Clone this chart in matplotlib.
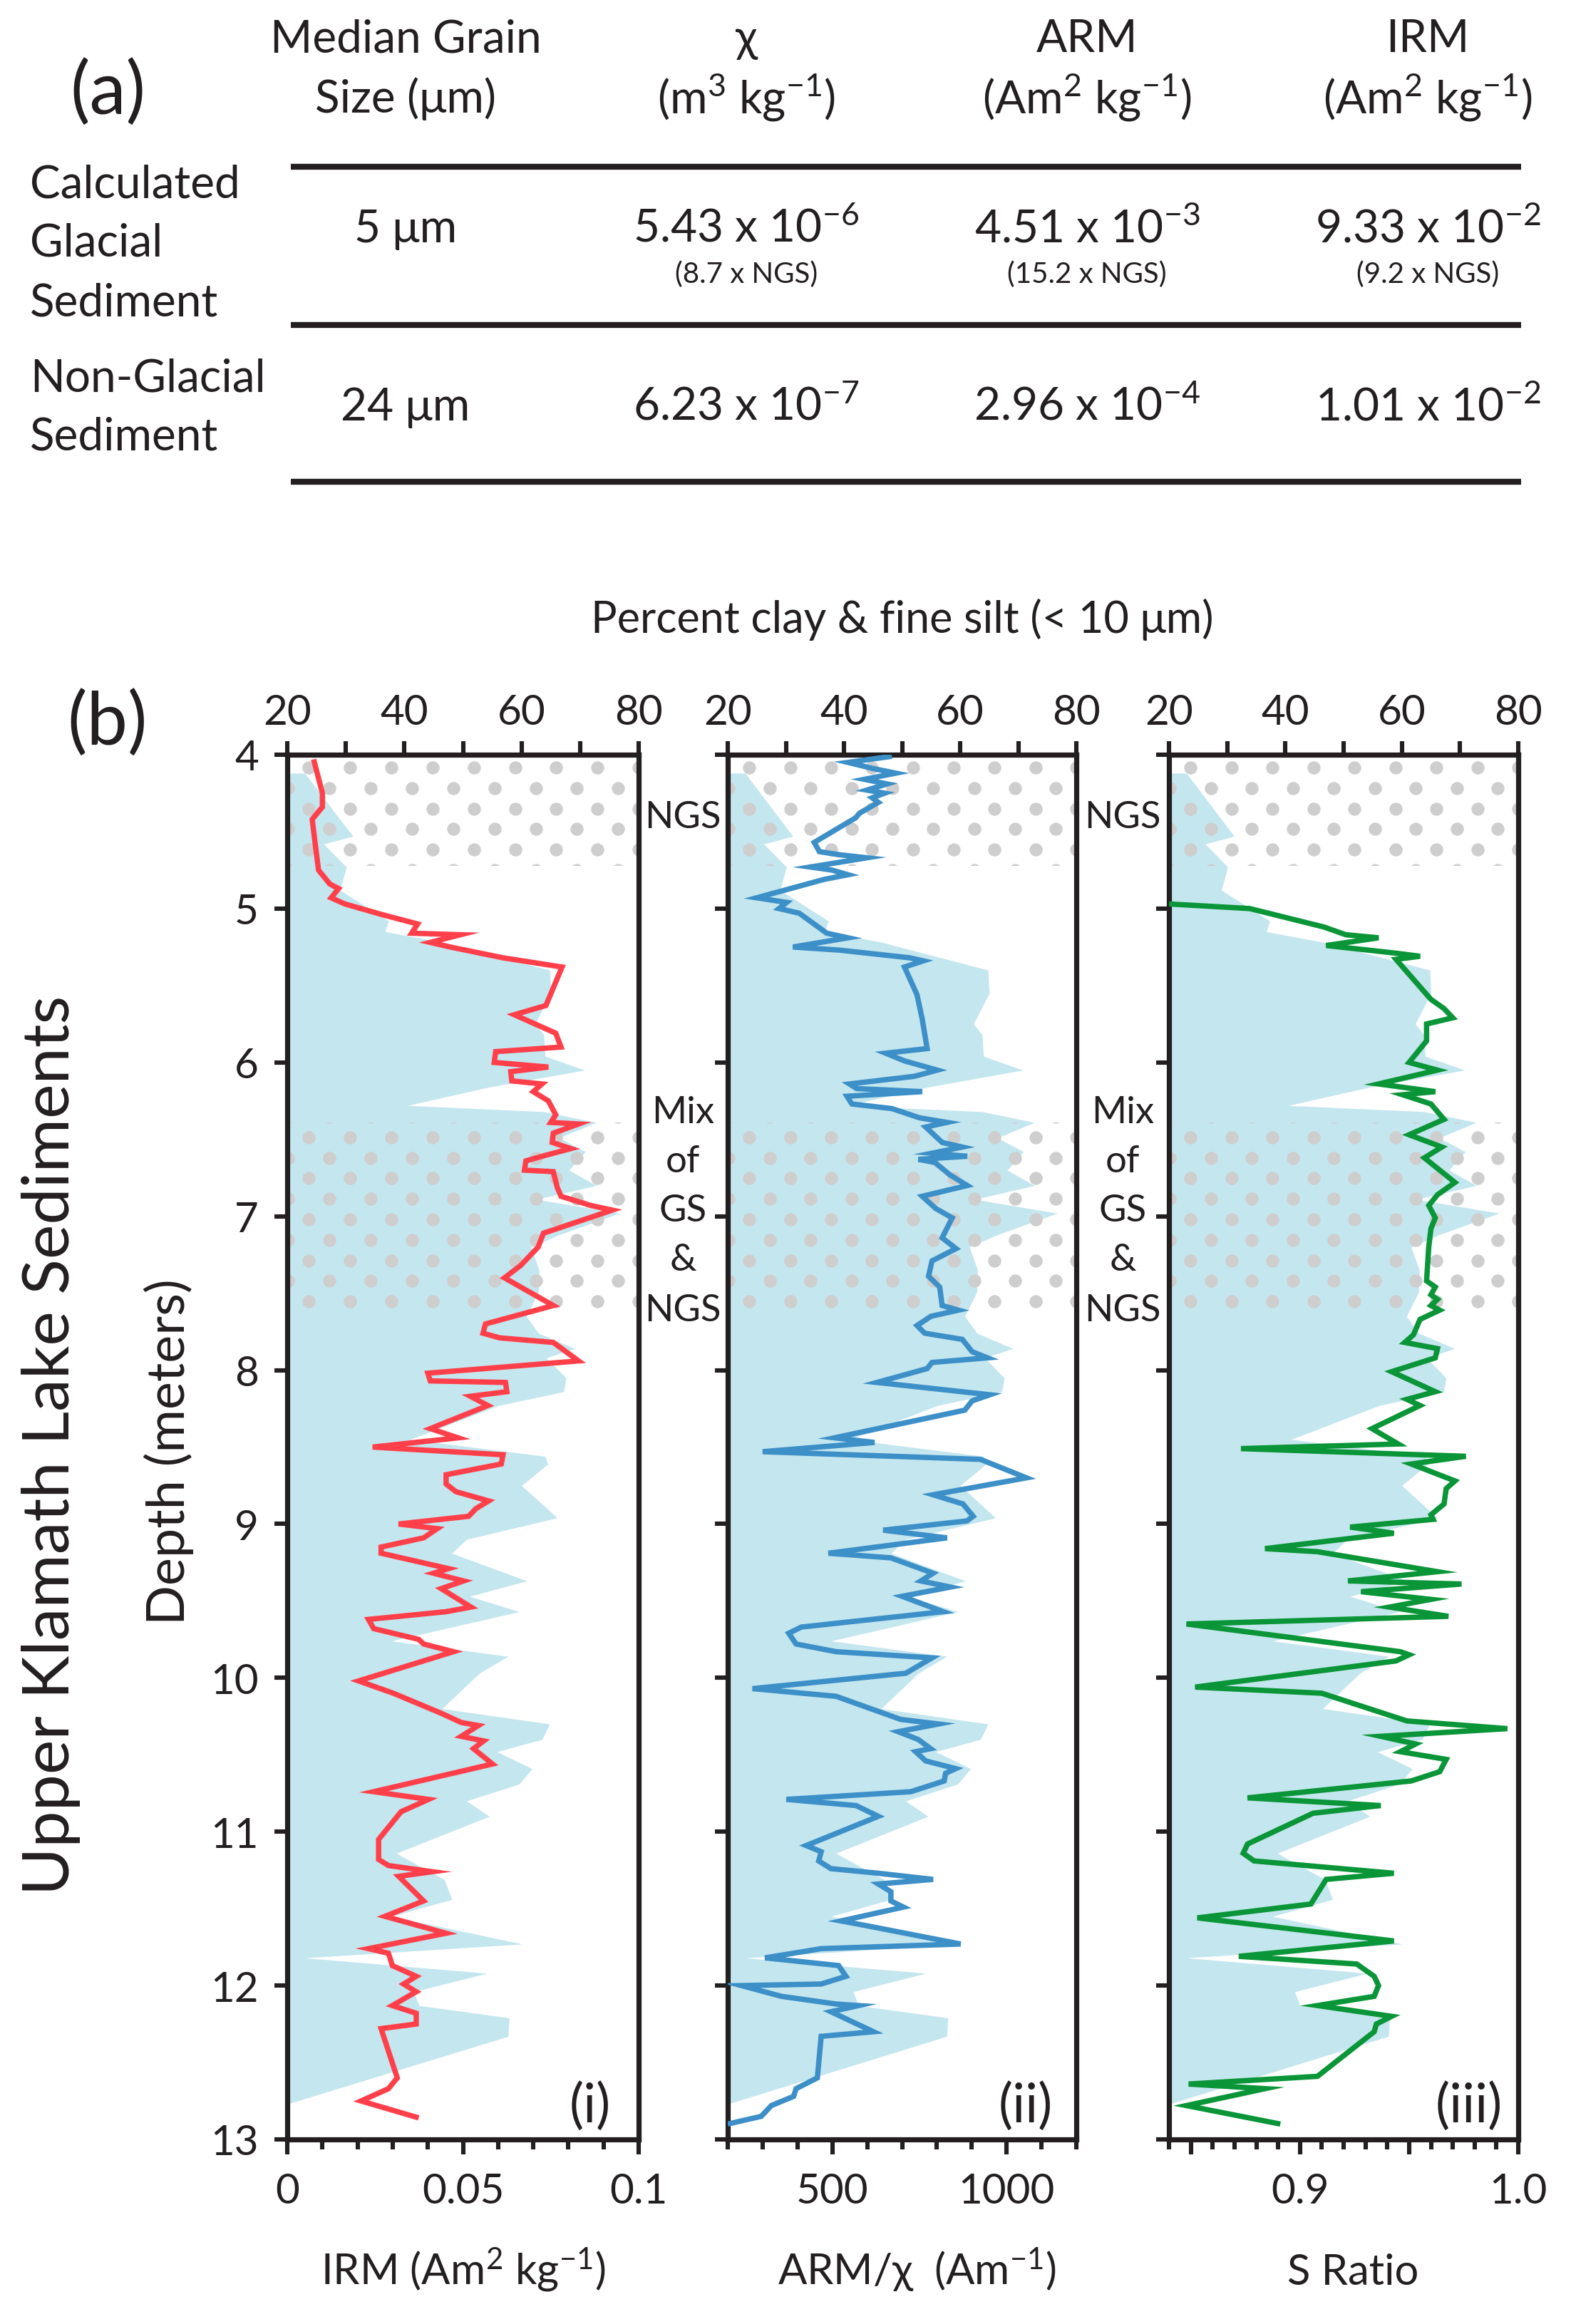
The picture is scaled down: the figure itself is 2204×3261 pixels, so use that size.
import numpy as np
import matplotlib
matplotlib.use("Agg")
import matplotlib.pyplot as plt
from matplotlib.patches import Rectangle
from matplotlib.ticker import MultipleLocator

plt.rcParams['font.family'] = ['Lato', 'DejaVu Sans']
plt.rcParams['mathtext.fontset'] = 'custom'
plt.rcParams['mathtext.rm'] = 'Lato'
plt.rcParams['mathtext.it'] = 'Lato:italic'
plt.rcParams['mathtext.bf'] = 'Lato:bold'
plt.rcParams['mathtext.default'] = 'regular'

# ---------------- DATA ----------------
# Table (a)
table_headers_1 = ["Median Grain", "χ", "ARM", "IRM"]
table_headers_2 = ["Size (μm)", r"(m$^3$ kg$^{-1}$)", r"(Am$^2$ kg$^{-1}$)", r"(Am$^2$ kg$^{-1}$)"]
row_labels = [["Calculated", "Glacial", "Sediment"], ["Non-Glacial", "Sediment"]]
grain_size = ["5 μm", "24 μm"]
chi_mant = [5.43, 6.23]
chi_exp = [-6, -7]
arm_mant = [4.51, 2.96]
arm_exp = [-3, -4]
irm_mant = [9.33, 1.01]
irm_exp = [-2, -2]
ratio_vs_ngs = [8.7, 15.2, 9.2]

# Percent clay & fine silt (< 10 um)
clay_depth = [4.12, 4.53, 4.58, 4.73, 4.88, 5.08, 5.15, 5.22, 5.40, 5.55, 5.75, 5.82, 5.96,
              6.05, 6.16, 6.28, 6.32, 6.39, 6.49, 6.58, 6.70, 6.80, 6.89, 6.98, 7.12, 7.20,
              7.35, 7.49, 7.65, 7.76, 7.86, 7.92, 8.05, 8.14, 8.23, 8.45, 8.56, 8.61, 8.75,
              8.96, 9.10, 9.19, 9.37, 9.47, 9.57, 9.76, 9.86, 9.97, 10.20, 10.30, 10.40,
              10.48, 10.59, 10.69, 10.80, 10.90, 11.14, 11.31, 11.44, 11.55, 11.73, 11.82,
              11.92, 12.04, 12.13, 12.21, 12.33, 12.77]
clay_pct = [23.0, 31.2, 26.2, 30.1, 29.0, 37.3, 36.7, 46.6, 64.8, 65.0, 62.3, 63.8, 64.0,
            70.8, 54.5, 40.5, 63.8, 72.8, 66.4, 70.9, 68.1, 72.8, 62.5, 76.7, 66.4, 61.6,
            63.0, 62.9, 60.8, 62.9, 69.1, 64.2, 67.6, 67.2, 56.1, 41.0, 64.0, 64.5, 60.0,
            66.1, 50.6, 48.1, 60.9, 51.1, 59.6, 37.8, 57.7, 52.8, 46.4, 64.8, 63.5,
            55.8, 61.8, 59.6, 50.6, 54.5, 38.6, 46.8, 48.1, 37.8, 60.1, 23.0,
            54.1, 41.6, 42.5, 57.9, 57.7, 20.0]

# IRM (Am2 kg-1)
irm_depth = [4.03, 4.25, 4.34, 4.42, 4.57, 4.75, 4.84, 4.87, 4.93, 4.97, 5.04, 5.10, 5.16,
             5.17, 5.22, 5.25, 5.32, 5.38, 5.63, 5.69, 5.81, 5.90, 5.93, 6.00, 6.03, 6.06,
             6.12, 6.14, 6.19, 6.25, 6.34, 6.39, 6.40, 6.46, 6.52, 6.56, 6.61, 6.64, 6.70,
             6.71, 6.81, 6.87, 6.93, 6.96, 7.11, 7.20, 7.32, 7.40, 7.58, 7.70, 7.76, 7.79,
             7.82, 7.94, 8.02, 8.07, 8.08, 8.14, 8.17, 8.23, 8.38, 8.44, 8.50, 8.55, 8.61,
             8.68, 8.74, 8.79, 8.85, 8.90, 8.95, 9.00, 9.03, 9.09, 9.15, 9.19, 9.29, 9.32,
             9.37, 9.42, 9.54, 9.57, 9.62, 9.68, 9.75, 9.78, 9.83, 10.02, 10.10, 10.23,
             10.29, 10.31, 10.38, 10.41, 10.46, 10.56, 10.74, 10.79, 10.87, 11.05, 11.18,
             11.22, 11.26, 11.29, 11.45, 11.55, 11.66, 11.76, 11.79, 11.87, 11.94, 11.99,
             12.04, 12.13, 12.18, 12.25, 12.28, 12.60, 12.67, 12.75, 12.86]
irm_val = [0.0075, 0.0100, 0.0100, 0.0071, 0.0079, 0.0089, 0.0121, 0.0146, 0.0125, 0.0164,
           0.0271, 0.0371, 0.0354, 0.0493, 0.0407, 0.0464, 0.0614, 0.0782, 0.0736, 0.0646,
           0.0764, 0.0779, 0.0593, 0.0589, 0.0743, 0.0636, 0.0639, 0.0725, 0.0700, 0.0743,
           0.0764, 0.0750, 0.0829, 0.0757, 0.0754, 0.0807, 0.0725, 0.0679, 0.0675, 0.0757,
           0.0768, 0.0779, 0.0864, 0.0925, 0.0729, 0.0714, 0.0664, 0.0618, 0.0757, 0.0564,
           0.0557, 0.0604, 0.0757, 0.0829, 0.0400, 0.0407, 0.0621, 0.0625, 0.0521, 0.0571,
           0.0407, 0.0486, 0.0243, 0.0614, 0.0609, 0.0452, 0.0452, 0.0480, 0.0573, 0.0537,
           0.0516, 0.0317, 0.0427, 0.0388, 0.0267, 0.0267, 0.0459, 0.0416, 0.0502, 0.0438,
           0.0523, 0.0452, 0.0231, 0.0246, 0.0374, 0.0388, 0.0473, 0.0203, 0.0302, 0.0438,
           0.0495, 0.0544, 0.0495, 0.0559, 0.0530, 0.0584, 0.0246, 0.0402, 0.0324, 0.0260,
           0.0260, 0.0288, 0.0413, 0.0317, 0.0388, 0.0278, 0.0452, 0.0231, 0.0288, 0.0299,
           0.0367, 0.0331, 0.0367, 0.0299, 0.0367, 0.0367, 0.0267, 0.0313, 0.0288, 0.0210,
           0.0374]

# ARM / chi (A m-1)
armchi_depth = [4.01, 4.05, 4.09, 4.12, 4.16, 4.19, 4.23, 4.25, 4.28, 4.31, 4.38, 4.41, 4.57,
                4.63, 4.65, 4.67, 4.73, 4.75, 4.78, 4.81, 4.93, 4.96, 5.00, 5.03, 5.16, 5.19,
                5.25, 5.27, 5.32, 5.34, 5.38, 5.56, 5.72, 5.91, 5.94, 5.99, 6.05, 6.09, 6.14,
                6.17, 6.19, 6.22, 6.27, 6.30, 6.36, 6.39, 6.42, 6.49, 6.52, 6.55, 6.59, 6.61,
                6.63, 6.65, 6.73, 6.80, 6.87, 6.95, 7.01, 7.14, 7.21, 7.29, 7.39, 7.46, 7.58,
                7.61, 7.65, 7.71, 7.76, 7.80, 7.88, 7.92, 7.95, 7.99, 8.08, 8.16, 8.20, 8.26,
                8.44, 8.47, 8.53, 8.58, 8.70, 8.81, 8.87, 8.95, 8.98, 9.04, 9.09, 9.19, 9.22,
                9.32, 9.37, 9.41, 9.47, 9.57, 9.67, 9.71, 9.78, 9.83, 9.87, 9.97, 10.07, 10.12,
                10.27, 10.30, 10.35, 10.40, 10.46, 10.48, 10.54, 10.59, 10.62, 10.67, 10.74,
                10.79, 10.83, 10.90, 11.09, 11.13, 11.19, 11.24, 11.27, 11.31, 11.34, 11.39,
                11.45, 11.49, 11.58, 11.61, 11.73, 11.76, 11.82, 11.87, 11.94, 11.99, 12.00,
                12.07, 12.12, 12.13, 12.17, 12.30, 12.33, 12.60, 12.67, 12.72, 12.78, 12.85,
                12.90]
armchi_val = [671, 545, 617, 682, 592, 657, 599, 650, 614, 632, 578, 567, 448,
              463, 520, 599, 437, 499, 545, 477, 283, 369, 347, 405, 484, 545,
              387, 520, 722, 761, 707, 743, 758, 772, 653, 707, 801, 736, 549,
              570, 758, 542, 556, 671, 750, 829, 768, 801, 815, 873, 786, 887,
              747, 794, 837, 887, 758, 797, 844, 815, 855, 786, 776, 808, 815,
              862, 783, 743, 765, 873, 901, 945, 786, 772, 628, 952, 901, 880,
              506, 621, 300, 925, 1057, 789, 875, 904, 886, 646, 829, 489, 668,
              789, 754, 839, 700, 818, 411, 375, 396, 511, 786, 711, 271, 511,
              696, 804, 689, 746, 782, 739, 768, 854, 825, 821, 725,
              368, 568, 632, 425, 468, 461, 496, 632, 789, 632, 668,
              668, 704, 525, 596, 868, 468, 307, 518, 539, 468, 239,
              354, 511, 575, 496, 618, 468, 457, 396, 389, 325, 296,
              200]

# S ratio
sratio_depth = [4.97, 5.00, 5.12, 5.17, 5.19, 5.24, 5.29, 5.31, 5.33, 5.59, 5.65, 5.71, 5.75,
                5.86, 6.00, 6.05, 6.14, 6.19, 6.21, 6.27, 6.37, 6.47, 6.55, 6.62, 6.78, 6.86,
                6.93, 7.01, 7.08, 7.20, 7.42, 7.46, 7.51, 7.54, 7.58, 7.61, 7.67, 7.77, 7.82,
                7.86, 7.92, 8.01, 8.14, 8.19, 8.23, 8.38, 8.48, 8.51, 8.56, 8.61, 8.72, 8.77,
                8.87, 8.94, 8.97, 9.02, 9.06, 9.16, 9.18, 9.31, 9.37, 9.39, 9.44, 9.49, 9.54,
                9.60, 9.65, 9.83, 9.85, 9.89, 10.06, 10.10, 10.28, 10.33, 10.38, 10.43, 10.48,
                10.53, 10.61, 10.67, 10.78, 10.83, 10.88, 11.08, 11.14, 11.19, 11.27, 11.31,
                11.47, 11.56, 11.71, 11.81, 11.86, 11.94, 12.00, 12.07, 12.13, 12.20, 12.25,
                12.30, 12.59, 12.64, 12.67, 12.78, 12.90]
sratio_val = [0.840, 0.877, 0.911, 0.921, 0.936, 0.912, 0.944, 0.955, 0.944, 0.960, 0.966,
              0.970, 0.958, 0.958, 0.950, 0.963, 0.936, 0.962, 0.947, 0.960, 0.966, 0.950,
              0.965, 0.957, 0.971, 0.963, 0.959, 0.962, 0.960, 0.959, 0.958, 0.962, 0.960,
              0.963, 0.960, 0.964, 0.955, 0.952, 0.948, 0.963, 0.962, 0.942, 0.962, 0.949,
              0.955, 0.933, 0.945, 0.873, 0.976, 0.951, 0.971, 0.967, 0.966, 0.960, 0.961,
              0.923, 0.943, 0.884, 0.908, 0.963, 0.922, 0.974, 0.928, 0.960, 0.941, 0.968,
              0.848, 0.946, 0.950, 0.944, 0.852, 0.910, 0.949, 0.995, 0.937, 0.953, 0.946,
              0.967, 0.964, 0.951, 0.876, 0.937, 0.906, 0.876, 0.874, 0.879, 0.943, 0.912,
              0.905, 0.853, 0.943, 0.872, 0.926, 0.934, 0.936, 0.934, 0.908, 0.942, 0.935,
              0.934, 0.908, 0.849, 0.884, 0.848, 0.891]

# Hatched (dotted) depth intervals: NGS and mix of GS & NGS
dot_bands = [(4.0, 4.72), (6.39, 7.61)]

clay_ticks = [20, 30, 40, 50, 60, 70, 80]
clay_ticklabels = ["20", "", "40", "", "60", "", "80"]
depth_ticks = [4, 5, 6, 7, 8, 9, 10, 11, 12, 13]

# ---------------- STYLE / LAYOUT ----------------
W, H = 2204, 3262
DPI = 200
INK = "#231f20"
FILL = "#c4e6ee"
DOT = "#cecece"
TOP_PX, BOT_PX = 1060, 3003

fig = plt.figure(figsize=(W / DPI, H / DPI), dpi=DPI)
fig.patch.set_facecolor("white")

panels = [
    dict(left=403, right=896, depth=irm_depth, val=irm_val, color="#ff404b",
         xlim=(0, 0.1), major=[0, 0.05, 0.1], labels=["0", "0.05", "0.1"], minor=0.01,
         tag="(i)", tagx=828, ylabels=True),
    dict(left=1021, right=1510, depth=armchi_depth, val=armchi_val, color="#3d8fc8",
         xlim=(200, 1200), major=[500, 1000], labels=["500", "1000"], minor=100,
         tag="(ii)", tagx=1439, ylabels=False),
    dict(left=1640, right=2130, depth=sratio_depth, val=sratio_val, color="#0a9538",
         xlim=(0.84, 1.0), major=[0.85, 0.9, 0.95, 1.0], labels=["", "0.9", "", "1.0"],
         minor=0.01, tag="(iii)", tagx=2061, ylabels=False),
]

# dot grid (hatch texture) in clay / depth units
dot_x, dot_y = [], []
for i, row in enumerate(np.arange(4.083, 13.0, 0.1335)):
    x0 = 23.7 if i % 2 == 0 else 20.18
    for xx in np.arange(x0, 81.0, 7.04):
        dot_x.append(xx)
        dot_y.append(row)

for p in panels:
    ax = fig.add_axes([p["left"] / W, 1 - BOT_PX / H, (p["right"] - p["left"]) / W,
                       (BOT_PX - TOP_PX) / H])
    ax2 = ax.twiny()
    ax.set_xlim(20, 80)
    ax.set_ylim(13, 4)
    ax.fill_betweenx(clay_depth, 20, clay_pct, color=FILL, lw=0, zorder=1)
    for (t, b) in dot_bands:
        rect = Rectangle((20, t), 60, b - t, transform=ax.transData)
        sc = ax.scatter(dot_x, dot_y, s=44, color=DOT, lw=0, zorder=2)
        sc.set_clip_path(rect)

    ax.xaxis.set_ticks_position("top")
    ax.set_xticks(clay_ticks)
    ax.set_xticklabels(clay_ticklabels)
    ax.tick_params(axis="x", which="major", direction="out", length=7, width=2.2,
                   color=INK, labelsize=21, labelcolor=INK, pad=5)
    ax.set_yticks(depth_ticks)
    ax.tick_params(axis="y", which="major", direction="out", length=6.5, width=2.2,
                   color=INK, labelsize=21, labelcolor=INK, pad=8,
                   labelleft=p["ylabels"], right=False)
    for s in ax.spines.values():
        s.set_linewidth(2.6)
        s.set_color(INK)

    ax2.set_xlim(*p["xlim"])
    ax2.xaxis.set_ticks_position("bottom")
    ax2.set_xticks(p["major"])
    ax2.set_xticklabels(p["labels"])
    ax2.xaxis.set_minor_locator(MultipleLocator(p["minor"]))
    ax2.tick_params(axis="x", which="major", direction="out", length=7.5, width=2.2,
                    color=INK, labelsize=21, labelcolor=INK, pad=9)
    ax2.tick_params(axis="x", which="minor", direction="out", length=5, width=2.2, color=INK)
    for s in ax2.spines.values():
        s.set_visible(False)
    ax2.plot(p["val"], p["depth"], color=p["color"], lw=2.7, solid_joinstyle="miter",
             solid_capstyle="butt", zorder=3)

# ---------------- overlay text (pixel coordinates) ----------------
ov = fig.add_axes([0, 0, 1, 1])
ov.set_xlim(0, W)
ov.set_ylim(H, 0)
ov.axis("off")
ov.set_zorder(10)

def txt(x, y, s, size, ha="center", va="baseline", **kw):
    ov.text(x, y, s, fontsize=size, ha=ha, va=va, color=INK, **kw)

# table (a)
txt(151, 160, "(a)", 37)
col_x = [569, 1047, 1525, 2003]
for x, h1, h2 in zip(col_x, table_headers_1, table_headers_2):
    txt(x, 73, h1, 23)
    txt(x, 158, h2, 23)
for yline in (235, 457, 677):
    ov.plot([408, 2134], [yline, yline], color=INK, lw=3.0, solid_capstyle="butt")
for lines, bases in zip(row_labels, ([278, 360, 443], [549, 631])):
    for s, yb in zip(lines, bases):
        txt(42, yb, s, 23, ha="left")
row_base = [340, 590]
for r in range(2):
    txt(col_x[0], row_base[r], grain_size[r], 23)
    txt(col_x[1], row_base[r], f"{chi_mant[r]:.2f} x 10$^{{{chi_exp[r]}}}$", 23)
    txt(col_x[2], row_base[r], f"{arm_mant[r]:.2f} x 10$^{{{arm_exp[r]}}}$", 23)
    txt(col_x[3], row_base[r], f"{irm_mant[r]:.2f} x 10$^{{{irm_exp[r]}}}$", 23)
for x, rv in zip(col_x[1:], ratio_vs_ngs):
    txt(x, 397, f"({rv} x NGS)", 14.5)

# panel (b)
txt(151, 1045, "(b)", 37)
txt(1266, 888, "Percent clay & fine silt (< 10 μm)", 22)
for p in panels:
    txt(p["tagx"], 2978, p["tag"], 27)
for gx in (958, 1575):
    txt(gx, 1162, "NGS", 19)
    for s, yb in zip(["Mix", "of", "GS", "&", "NGS"], [1576, 1645, 1714, 1783, 1854]):
        txt(gx, yb, s, 19)
txt(650, 3206, r"IRM (Am$^2$ kg$^{-1}$)", 21.5)
txt(1286, 3206, r"ARM/χ  (Am$^{-1}$)", 21.5)
txt(1898, 3206, "S Ratio", 21.5)
txt(237, 2037, "Depth (meters)", 26.5, va="center", rotation=90)
txt(72, 2028, "Upper Klamath Lake Sediments", 33, va="center", rotation=90)

fig.savefig("out.png", dpi=DPI, facecolor="white")
